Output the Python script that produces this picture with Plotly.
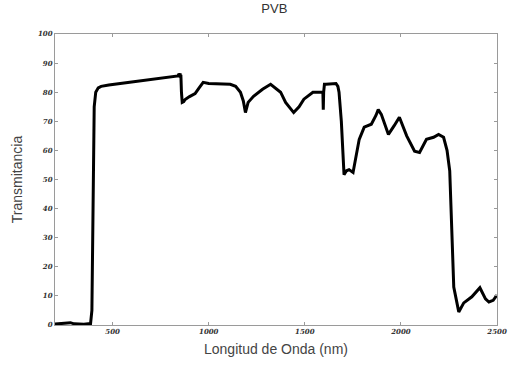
import plotly.graph_objects as go

wavelength = [200, 250, 280, 300, 350, 385, 392, 398, 404, 412, 425, 440, 480, 589, 680, 762, 820,
              840, 845, 848, 851, 853, 855, 858, 862, 870, 877, 900, 929, 950, 971, 1000, 1050,
              1112, 1140, 1165, 1180, 1191, 1205, 1233, 1280, 1322, 1374, 1400, 1442, 1470, 1495,
              1542, 1594, 1596, 1598, 1602, 1610, 1640, 1662, 1672, 1678, 1690, 1704, 1717, 1730,
              1751, 1765, 1783, 1809, 1846, 1870, 1882, 1898, 1935, 1965, 1992, 2030, 2071, 2097,
              2133, 2170, 2196, 2222, 2240, 2254, 2275, 2301, 2327, 2369, 2411, 2440, 2458, 2480, 2500]
transmittance = [0.3, 0.5, 0.8, 0.4, 0.3, 0.5, 5, 40, 75, 80, 81.5, 82, 82.5, 83.4, 84.2, 85, 85.3,
                 85.6, 86.3, 85.2, 86.5, 85.0, 86.0, 80, 76.5, 76.8, 77.5, 78.5, 79.5, 81.5, 83.4, 83.0, 82.8,
                 82.7, 82.0, 80.0, 77.0, 73.0, 76.5, 78.6, 81.0, 82.7, 80.0, 76.5, 73.0, 75.0, 77.6,
                 80.0, 80.0, 74.0, 80.0, 82.7, 82.7, 83.0, 83.0, 82.0, 80.0, 70.0, 51.7, 53.0, 53.4,
                 52.4, 58.0, 63.8, 68.0, 69.0, 72.0, 74.0, 72.4, 65.5, 68.5, 71.4, 65.0, 59.7, 59.3,
                 63.8, 64.5, 65.5, 64.5, 60.0, 53.0, 13.0, 4.5, 7.6, 9.7, 12.8, 9.0, 7.9, 8.5, 10.3]

x_ticks = [500, 1000, 1500, 2000, 2500]
y_ticks = [0, 10, 20, 30, 40, 50, 60, 70, 80, 90, 100]

fig = go.Figure()
fig.add_trace(go.Scatter(x=wavelength, y=transmittance, mode="lines",
                         line=dict(color="black", width=3), showlegend=False))

axis_common = dict(showline=True, linecolor="#9a9a9a", linewidth=1, mirror="ticks",
                   ticks="inside", ticklen=3, tickcolor="#9a9a9a", showgrid=False, zeroline=False,
                   automargin=False,
                   tickfont=dict(family="DejaVu Serif", size=7, color="#333333",
                                 style="italic", weight="bold"))

fig.update_layout(
    width=508, height=365,
    margin=dict(l=55, r=11, t=34, b=40),
    paper_bgcolor="white", plot_bgcolor="white",
    title=dict(text="PVB", x=0.54, xanchor="center", y=0.988, yanchor="top",
               font=dict(family="Liberation Sans", size=13, color="#333333")),
    xaxis=dict(range=[200, 2500], tickvals=x_ticks, ticktext=[str(v) for v in x_ticks],
               title=dict(text="Longitud de Onda (nm)", standoff=8,
                          font=dict(family="Liberation Sans", size=14, color="#444444")),
               **axis_common),
    yaxis=dict(range=[0, 100], tickvals=y_ticks, ticktext=[str(v) for v in y_ticks],
               title=dict(text="Transmitancia", standoff=12,
                          font=dict(family="Liberation Sans", size=14, color="#444444")),
               **axis_common),
)

fig.write_html("out.html")
